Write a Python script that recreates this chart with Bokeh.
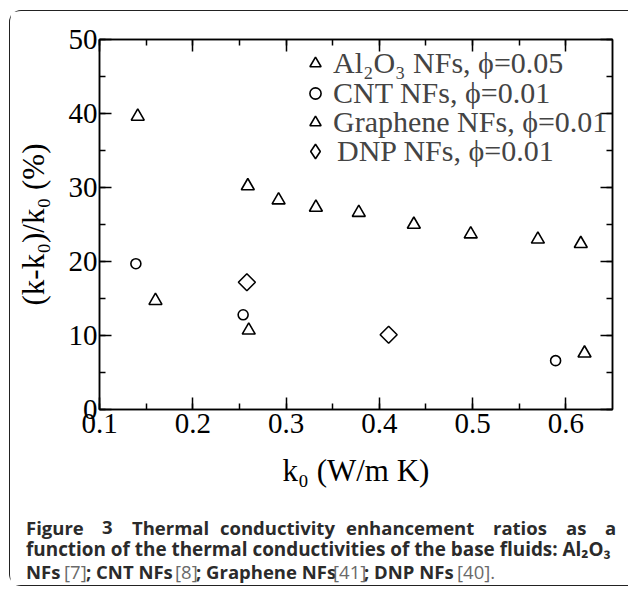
from bokeh.plotting import figure
from bokeh.layouts import column
from bokeh.models import (Range1d, LinearAxis, Legend, LegendItem, Label,
                          SingleIntervalTicker, ColumnDataSource)
from bokeh.embed import file_html
from bokeh.resources import INLINE
import math

# ---- data ----
al2o3_x = [0.141, 0.259, 0.292, 0.332, 0.378, 0.437, 0.498, 0.570, 0.616]
al2o3_y = [39.6, 30.2, 28.3, 27.3, 26.6, 25.0, 23.7, 23.0, 22.4]
cnt_x = [0.139, 0.254, 0.589]
cnt_y = [19.7, 12.8, 6.6]
graphene_x = [0.160, 0.260, 0.620]
graphene_y = [14.7, 10.7, 7.6]
dnp_x = [0.258, 0.410]
dnp_y = [17.2, 10.1]

labels = ["Al\u2082O\u2083 NFs, \u03d5=0.05", "CNT NFs, \u03d5=0.01",
          "Graphene NFs, \u03d5=0.01", "DNP NFs, \u03d5=0.01"]
x_title = "k\u2080 (W/m K)"
y_title = "(k-k\u2080)/k\u2080 (%)"

X0, X1, Y0, Y1 = 0.1, 0.65, 0, 50
W1, H1 = 618, 494      # chart figure
W2, H2 = 618, 80       # caption figure

SERIF = "Liberation Serif"
SANS = "Open Sans"

p = figure(width=W1, height=H1, output_backend="svg", toolbar_location=None,
           x_range=Range1d(X0, X1), y_range=Range1d(Y0, Y1),
           min_border_left=89, min_border_right=16, min_border_top=28,
           min_border_bottom=96, background_fill_color="white",
           border_fill_color="white", frame_align=False)
p.grid.grid_line_color = None
p.outline_line_color = "black"
p.outline_line_width = 1.5

bottom_ax = p.below[0]
left_ax = p.left[0]
bottom_ax.ticker = SingleIntervalTicker(interval=0.1, num_minor_ticks=2)
left_ax.ticker = SingleIntervalTicker(interval=10, num_minor_ticks=2)

top_ax = LinearAxis(ticker=SingleIntervalTicker(interval=0.1, num_minor_ticks=2))
right_ax = LinearAxis(ticker=SingleIntervalTicker(interval=10, num_minor_ticks=2))
p.add_layout(top_ax, "above")
p.add_layout(right_ax, "right")

for ax in [bottom_ax, left_ax, top_ax, right_ax]:
    ax.axis_line_color = "black"
    ax.axis_line_width = 1.5
    ax.major_tick_line_width = 1.5
    ax.minor_tick_line_width = 1.5
    ax.major_tick_in = 12
    ax.major_tick_out = 0
    ax.minor_tick_in = 6
    ax.minor_tick_out = 0
    ax.major_label_text_font = SERIF
    ax.major_label_text_font_size = "29px"
    ax.major_label_text_color = "black"
    ax.axis_label_text_font = SERIF
    ax.axis_label_text_font_style = "normal"
    ax.axis_label_text_font_size = "31px"
    ax.axis_label_text_color = "black"

for ax in [top_ax, right_ax]:
    ax.major_label_text_font_size = "0px"
    ax.major_label_standoff = 0

bottom_ax.major_label_standoff = 4
left_ax.major_label_standoff = 2
bottom_ax.axis_label = x_title
left_ax.axis_label = y_title
bottom_ax.axis_label_standoff = 17
left_ax.axis_label_standoff = 15

# ---- markers ----
mk = dict(fill_color=None, line_color="black", line_width=1.6)
r1 = p.scatter(al2o3_x, al2o3_y, marker="triangle", size=13, **mk)
r2 = p.scatter(cnt_x, cnt_y, marker="circle", size=10, **mk)
r3 = p.scatter(graphene_x, graphene_y, marker="triangle", size=13, **mk)
dnp_src = ColumnDataSource(data=dict(x=dnp_x, y=dnp_y))
r4 = p.scatter("x", "y", source=dnp_src, marker="square", size=12,
               angle=math.pi / 4, **mk)
# legend swatch for the diamond series (legends draw markers unrotated);
# it shares the DNP data but is not drawn on the plot itself
r4_key = p.scatter("x", "y", source=dnp_src, marker="diamond", size=16,
                   visible=False, **mk)

# one legend per row, so that rows sit as close together as in the reference
# (renderer, x, y, glyph box)
rows = [(r1, 202, 329, 28), (r2, 202, 299, 28), (r3, 202, 270, 28),
        (r4_key, 198, 240, 36)]
for (rend, xpos, ypos, gsz), lab in zip(rows, labels):
    lg = Legend(items=[LegendItem(label=lab, renderers=[rend])],
                location=(xpos, ypos), border_line_color=None,
                background_fill_alpha=0, label_text_font=SERIF,
                label_text_font_size="30px", glyph_width=gsz, glyph_height=gsz,
                label_height=28, padding=0, margin=0, label_standoff=4,
                inactive_fill_alpha=0)
    p.add_layout(lg)

# ---- caption figure (pixel coordinates, y downwards) ----
c = figure(width=W2, height=H2, output_backend="svg", toolbar_location=None,
           x_range=Range1d(0, W2), y_range=Range1d(H2, 0),
           x_axis_type=None, y_axis_type=None, min_border=0,
           min_border_left=0, min_border_right=0, min_border_top=0,
           min_border_bottom=0, frame_align=False,
           background_fill_color="white", border_fill_color="white")
c.grid.grid_line_color = None
c.outline_line_color = None

DARK = "#2b2b2b"
GREY = "#6a6a6a"
OX = 10.5   # caption canvas starts at this page x


def cap(px, py, text, bold=True, color=DARK, size="18.5px"):
    c.add_layout(Label(x=px - OX, y=py, text=text,
                       text_font=SANS, text_font_size=size,
                       text_font_style="bold" if bold else "normal",
                       text_color=color, text_baseline="middle",
                       text_align="left"))


Y_L1, Y_L2, Y_L3 = 21.5, 43.5, 65.5
line1 = [(26, "Figure"), (102, "3"), (132, "Thermal"), (220, "conductivity"),
         (346, "enhancement"), (493, "ratios"), (566, "as"), (605, "a")]
for x, t in line1:
    cap(x, Y_L1, t)
cap(26, Y_L2, "function of the thermal conductivities of the base fluids: Al\u2082O\u2083",
    size="18.9px")
line3 = [(26, "NFs", True), (64, "[7]", False), (86, "; CNT NFs", True),
         (175, "[8]", False), (196, "; Graphene NFs", True), (333, "[41]", False),
         (364, "; DNP NFs", True), (457, "[40].", False)]
for x, t, b in line3:
    cap(x, Y_L3, t, b, DARK if b else GREY)

page = column(p, c, margin=(10, 0, 0, 9),
              styles={"border": "1.5px solid #222222", "border-right": "none",
                      "border-radius": "12px 0 0 12px"})

open("out.html", "w").write(file_html(page, INLINE))
